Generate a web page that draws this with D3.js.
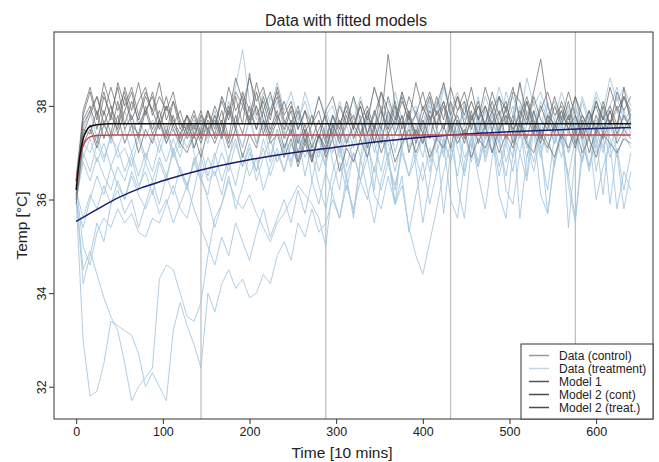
<!DOCTYPE html>
<html>
<head>
<meta charset="utf-8">
<script src="https://cdn.jsdelivr.net/npm/d3@7"></script>
<style>
  body { margin: 0; background: #fff; }
  svg { font-family: "Liberation Sans", Arial, sans-serif; }
</style>
</head>
<body>
<svg id="chart" width="659" height="462"></svg>
<script>
// sampling grid of the traces (every 8 x 10 mins)
var times = d3.range(0, 641, 8)

// control animals
var ctrlA = [
  36.3, 37.6, 37.9, 38.2, 37.8, 38.4, 37.9, 38.3, 37.7, 38.1,
  38.4, 37.8, 38.2, 37.9, 38.3, 37.6, 37.5, 37.9, 37.4, 37.8,
  37.6, 38.1, 37.7, 38.3, 38.0, 38.6, 38.1, 38.4, 37.8, 38.2,
  37.6, 38.0, 37.5, 37.9, 37.3, 37.7, 37.2, 37.8, 37.5, 38.1,
  37.6, 38.0, 37.4, 37.9, 37.5, 38.2, 37.7, 38.3, 37.8, 37.4,
  38.0, 37.6, 38.2, 37.7, 38.4, 37.9, 38.1, 37.5, 38.0, 37.6,
  38.3, 37.8, 38.1, 37.4, 37.9, 37.6, 38.2, 37.7, 37.5, 38.0,
  37.6, 38.1, 37.4, 37.8, 37.5, 38.1, 37.7, 38.0, 37.6, 38.2,
  37.8]
var ctrlB = [
  36.0, 37.3, 37.6, 37.2, 37.9, 37.4, 38.1, 37.5, 37.8, 37.3,
  37.9, 37.4, 37.7, 37.2, 37.6, 37.3, 37.8, 37.1, 37.5, 37.9,
  37.3, 37.7, 37.2, 37.8, 37.4, 38.0, 37.5, 37.9, 37.3, 37.7,
  37.1, 37.5, 36.8, 37.3, 36.9, 37.4, 37.0, 37.6, 37.2, 37.8,
  37.3, 37.7, 37.1, 37.6, 37.2, 37.9, 37.4, 37.8, 37.0, 37.5,
  37.2, 37.8, 37.3, 37.6, 37.1, 37.7, 37.4, 37.9, 37.2, 37.6,
  37.0, 37.5, 37.8, 37.2, 37.7, 37.3, 37.9, 37.4, 37.1, 37.6,
  37.3, 37.8, 37.2, 37.6, 37.0, 37.5, 37.3, 37.7, 37.2, 37.5,
  37.3]
var ctrlC = [
  36.5, 37.8, 38.3, 37.7, 38.5, 38.0, 37.6, 38.4, 37.9, 38.5,
  37.8, 38.3, 37.7, 38.2, 37.6, 37.9, 37.4, 37.8, 37.3, 37.9,
  37.5, 38.2, 37.8, 38.6, 38.1, 37.7, 38.5, 37.9, 38.3, 37.7,
  38.1, 37.6, 38.0, 37.4, 37.8, 37.3, 37.9, 38.2, 37.6, 38.0,
  37.5, 38.1, 37.7, 38.4, 37.9, 37.5, 38.0, 37.6, 38.2, 37.8,
  38.3, 37.7, 38.0, 38.5, 37.8, 38.2, 37.6, 38.1, 37.7, 38.4,
  37.9, 38.2, 37.6, 38.3, 38.1, 37.7, 38.3, 39.0, 38.0, 37.5,
  38.1, 37.7, 38.2, 37.6, 37.9, 37.4, 38.0, 37.6, 38.3, 37.9,
  38.2]
var ctrlD = [
  36.2, 37.5, 37.4, 37.9, 37.3, 37.8, 37.5, 38.2, 37.6, 37.4,
  38.0, 37.5, 37.9, 37.4, 38.1, 37.7, 37.3, 37.6, 37.2, 37.7,
  37.4, 37.9, 37.3, 38.2, 37.6, 38.7, 37.8, 38.1, 37.5, 37.9,
  37.3, 37.7, 37.0, 37.5, 36.8, 37.4, 37.1, 37.6, 37.3, 37.6,
  37.8, 37.4, 37.9, 37.2, 37.7, 39.1, 38.0, 37.3, 37.8, 37.2,
  37.7, 37.3, 37.9, 37.5, 38.1, 37.6, 37.2, 37.8, 37.4, 38.0,
  37.5, 37.9, 37.3, 37.8, 37.4, 38.1, 37.6, 37.2, 37.8, 37.4,
  37.9, 37.5, 37.1, 37.7, 37.3, 37.8, 37.4, 37.9, 37.5, 38.4,
  37.6]
var ctrlE = [
  35.9, 37.2, 37.5, 37.1, 37.6, 37.3, 37.8, 37.2, 37.6, 37.0,
  37.5, 37.2, 37.7, 37.3, 37.8, 37.2, 37.0, 37.4, 36.9, 37.5,
  37.2, 37.6, 37.1, 37.5, 36.9, 37.4, 37.1, 37.7, 37.2, 37.4,
  36.9, 37.3, 36.7, 37.2, 36.8, 37.4, 36.9, 37.3, 36.6, 37.1,
  36.8, 37.3, 36.9, 37.5, 37.0, 37.4, 36.8, 37.2, 37.5, 37.0,
  37.4, 36.9, 37.3, 37.1, 37.6, 37.2, 37.5, 36.9, 37.3, 37.1,
  37.5, 37.0, 37.4, 37.1, 37.6, 37.2, 37.0, 37.5, 37.2, 36.9,
  37.4, 37.1, 37.5, 37.0, 37.3, 36.9, 37.4, 37.2, 37.0, 37.3,
  37.2]
var ctrlF = [
  36.4, 37.7, 38.0, 37.5, 38.2, 37.8, 38.4, 37.6, 38.1, 37.7,
  38.2, 37.9, 37.5, 38.0, 37.7, 37.4, 37.8, 37.5, 37.9, 37.4,
  37.8, 37.4, 38.0, 37.6, 38.3, 37.9, 37.5, 38.2, 37.7, 38.4,
  37.8, 38.1, 37.5, 37.9, 37.6, 38.2, 37.7, 37.4, 38.0, 37.6,
  38.2, 37.7, 38.0, 37.5, 38.3, 37.9, 37.6, 38.1, 37.7, 38.5,
  37.9, 38.3, 37.8, 38.1, 37.6, 38.2, 37.8, 38.4, 37.7, 38.0,
  37.6, 38.2, 37.9, 38.4, 37.7, 38.1, 37.5, 37.9, 38.3, 37.8,
  38.0, 37.6, 38.2, 37.8, 37.5, 38.1, 37.7, 38.4, 37.9, 38.2,
  37.9]
var ctrlG = [
  36.1, 37.9, 38.4, 37.8, 38.3, 37.7, 38.5, 38.0, 38.4, 37.8,
  38.3, 37.9, 38.5, 37.7, 38.1, 37.5, 37.8, 37.4, 37.7, 37.5,
  38.0, 37.6, 38.4, 37.9, 38.2, 37.6, 38.0, 37.4, 37.9, 38.3,
  37.7, 37.4, 37.9, 37.2, 37.6, 37.9, 37.3, 37.8, 37.4, 37.9,
  37.5, 38.0, 37.4, 37.8, 38.3, 37.6, 38.1, 37.5, 37.9, 37.3,
  37.8, 38.2, 37.5, 38.0, 37.4, 37.9, 38.3, 37.7, 38.1, 37.5,
  37.9, 37.4, 38.0, 37.6, 38.5, 37.8, 37.4, 38.0, 37.6, 38.2,
  37.7, 38.3, 37.8, 37.4, 37.9, 37.5, 38.1, 37.6, 38.0, 37.5,
  37.8]
var ctrlH = [
  36.3, 37.4, 37.8, 38.2, 37.6, 38.0, 37.4, 37.9, 38.3, 37.6,
  37.9, 38.2, 37.6, 38.0, 37.5, 37.2, 37.6, 37.3, 37.8, 37.5,
  37.7, 37.3, 37.9, 37.5, 38.0, 37.6, 38.3, 37.7, 37.4, 37.8,
  37.5, 37.9, 37.2, 37.6, 37.1, 37.5, 37.8, 37.3, 37.7, 37.2,
  37.6, 37.3, 37.8, 37.5, 37.9, 37.4, 37.7, 38.2, 37.6, 37.8,
  37.4, 37.9, 37.6, 38.1, 37.5, 37.8, 37.3, 37.7, 38.0, 37.6,
  38.1, 37.6, 37.9, 37.5, 37.8, 38.2, 37.7, 37.3, 37.8, 37.6,
  37.9, 37.5, 37.8, 37.3, 37.7, 38.0, 37.5, 37.9, 37.4, 37.8,
  37.5]

// treated animals
var treatA = [
  36.0, 33.0, 31.8, 31.9, 32.5, 33.4, 33.3, 33.2, 33.1, 32.7,
  32.0, 32.3, 32.0, 31.7, 33.2, 33.8, 33.3, 32.9, 32.4, 34.0,
  33.6, 34.2, 34.5, 34.1, 34.3, 33.9, 34.0, 34.4, 34.2, 34.8,
  35.1, 34.7, 35.5, 35.2, 35.8, 35.3, 35.5, 36.0, 35.6, 36.3,
  35.8, 36.4, 36.0, 36.7, 36.2, 36.8, 36.3, 37.0, 36.5, 36.9,
  36.4, 37.1, 36.6, 37.3, 36.8, 37.5, 36.9, 37.2, 36.7, 37.4,
  37.0, 37.6, 36.8, 37.3, 37.7, 37.1, 37.5, 36.9, 37.6, 37.2,
  37.7, 37.0, 37.4, 36.8, 37.5, 37.1, 37.8, 37.3, 36.9, 37.4,
  37.1]
var treatB = [
  36.1, 34.5, 34.9, 34.4, 33.9, 33.5, 33.2, 32.5, 31.7, 32.0,
  32.2, 32.4, 34.3, 34.6, 34.5, 34.0, 33.5, 33.4, 33.8, 34.8,
  35.6, 35.9, 36.4, 36.0, 35.8, 36.1, 35.7, 35.4, 35.1, 35.5,
  35.7, 36.0, 36.3, 36.1, 35.9, 35.6, 35.0, 36.3, 36.8, 36.2,
  37.0, 36.4, 36.9, 36.1, 35.8, 36.5, 35.9, 36.3, 35.4, 34.8,
  34.4, 35.1, 35.8, 36.6, 37.2, 36.5, 37.4, 36.8, 37.6, 37.0,
  37.5, 36.7, 37.3, 36.9, 37.8, 37.2, 36.6, 37.4, 37.0, 37.7,
  37.2, 36.5, 37.3, 36.8, 37.6, 37.0, 37.5, 36.9, 37.3, 37.8,
  37.4]
var treatC = [
  36.3, 35.0, 34.6, 35.3, 35.6, 35.4, 35.8, 35.5, 35.7, 35.3,
  35.2, 35.6, 35.5, 35.9, 36.3, 35.8, 35.6, 36.2, 36.9, 36.4,
  36.6, 36.1, 36.8, 36.3, 37.0, 36.5, 36.9, 36.2, 36.7, 37.1,
  36.6, 37.2, 36.8, 37.4, 36.9, 37.3, 36.7, 37.5, 37.0, 37.6,
  37.1, 37.7, 37.2, 37.9, 37.3, 37.8, 37.0, 37.6, 37.3, 37.9,
  37.4, 38.0, 37.5, 37.2, 37.8, 37.3, 38.1, 37.6, 37.2, 37.9,
  37.4, 38.2, 37.6, 38.0, 37.3, 37.9, 37.5, 38.1, 37.7, 37.2,
  37.8, 37.4, 38.0, 37.5, 37.9, 37.3, 37.8, 37.6, 38.2, 37.7,
  37.9]
var treatD = [
  36.0, 36.8, 36.4, 36.9, 36.5, 36.2, 36.7, 36.4, 36.9, 36.3,
  36.6, 36.1, 36.8, 36.4, 37.1, 36.6, 36.2, 36.9, 36.4, 36.1,
  36.9, 37.4, 36.8, 37.6, 37.1, 37.8, 37.2, 37.7, 36.9, 37.5,
  37.0, 37.6, 37.2, 37.9, 37.4, 37.0, 37.6, 36.8, 36.2, 37.3,
  37.5, 36.9, 37.7, 37.2, 36.6, 37.4, 37.9, 37.1, 36.5, 37.2,
  37.6, 36.8, 37.3, 35.7, 37.0, 37.5, 36.6, 37.3, 37.8, 36.9,
  37.4, 36.5, 37.2, 37.7, 35.6, 36.9, 37.5, 37.0, 36.2, 37.4,
  37.8, 35.4, 37.0, 37.5, 36.7, 37.3, 36.1, 37.6, 37.0, 35.8,
  36.6]
var treatE = [
  36.2, 37.2, 37.0, 37.4, 36.9, 37.3, 37.1, 37.5, 37.0, 37.4,
  36.9, 37.3, 37.6, 37.2, 37.5, 37.1, 37.4, 37.7, 37.3, 37.9,
  37.6, 38.2, 37.8, 38.4, 39.2, 38.1, 37.7, 38.3, 37.9, 38.5,
  37.9, 38.3, 37.7, 38.1, 37.6, 38.2, 37.8, 38.0, 37.5, 38.1,
  37.7, 38.2, 37.6, 38.4, 37.9, 38.1, 37.5, 38.3, 37.8, 38.0,
  37.6, 38.2, 37.8, 38.5, 37.9, 38.3, 37.7, 38.1, 37.6, 38.2,
  37.8, 38.4, 37.9, 38.2, 37.7, 38.6, 38.0, 38.3, 37.8, 38.1,
  37.6, 38.0, 37.5, 38.2, 37.7, 38.3, 37.9, 38.6, 38.1, 38.4,
  38.0]
var treatF = [
  36.1, 37.0, 36.6, 37.2, 36.8, 37.4, 36.9, 37.1, 36.7, 37.3,
  36.8, 37.4, 37.0, 37.5, 36.9, 37.2, 37.6, 37.0, 36.5, 36.0,
  35.4, 35.9, 36.5, 35.8, 36.3, 37.0, 36.6, 37.3, 36.8, 37.5,
  37.0, 37.6, 36.9, 37.4, 36.4, 37.1, 36.7, 37.8, 37.2, 36.5,
  35.6, 36.8, 37.4, 36.2, 37.6, 36.9, 35.9, 37.3, 37.8, 36.7,
  35.5, 36.4, 37.5, 37.0, 37.8, 36.3, 35.6, 37.1, 37.7, 36.8,
  37.4, 36.1, 35.6, 37.0, 37.6, 36.5, 37.9, 37.2, 35.7, 36.9,
  37.5, 36.3, 35.5, 37.2, 37.8, 36.6, 37.4, 35.9, 37.1, 36.2,
  37.0]
var treatG = [
  36.4, 37.5, 37.9, 37.3, 37.7, 37.2, 37.6, 37.9, 37.4, 37.8,
  37.3, 37.7, 37.2, 37.6, 37.0, 37.4, 37.1, 37.5, 37.8, 37.3,
  37.9, 37.4, 38.1, 37.6, 38.3, 37.7, 38.0, 37.5, 38.2, 37.8,
  37.4, 38.0, 37.6, 38.3, 37.8, 37.3, 37.9, 37.5, 38.1, 37.6,
  38.2, 37.4, 37.9, 37.2, 38.0, 37.5, 38.3, 37.7, 37.3, 37.9,
  37.5, 38.1, 37.6, 38.4, 37.8, 37.3, 38.0, 37.6, 38.2, 37.4,
  37.9, 37.5, 38.3, 37.8, 38.5, 37.6, 38.1, 37.4, 38.0, 37.7,
  38.3, 37.8, 37.4, 38.1, 37.6, 38.2, 37.5, 38.0, 38.4, 37.8,
  37.6]
var treatH = [
  35.9, 35.4, 36.0, 36.5, 36.1, 36.7, 36.3, 36.0, 36.6, 36.2,
  36.8, 36.4, 36.9, 36.5, 37.0, 36.6, 36.3, 36.8, 37.1, 36.5,
  37.0, 36.4, 36.9, 37.3, 36.7, 37.2, 36.6, 37.1, 36.5, 37.0,
  36.6, 37.2, 36.8, 37.5, 37.0, 36.3, 35.8, 36.6, 37.1, 36.4,
  35.7, 36.9, 36.2, 35.5, 36.4, 37.0, 35.9, 36.5, 35.3, 36.1,
  36.8, 35.9, 36.6, 37.2, 36.0, 35.6, 36.8, 37.3, 36.5, 35.8,
  36.9, 37.4, 36.2, 35.9, 37.0, 36.4, 37.5, 36.1, 35.7, 36.8,
  37.3, 36.5, 35.6, 36.9, 37.4, 36.0, 36.7, 37.2, 35.8, 36.6,
  36.2]
var treatI = [
  36.2, 35.6, 36.1, 35.8, 36.3, 35.9, 36.4, 36.0, 36.5, 36.1,
  35.8, 36.2, 35.7, 36.0, 35.5, 35.9, 36.3, 35.8, 35.4, 35.0,
  34.6, 35.2, 34.8, 35.5, 35.1, 34.7, 35.3, 35.8, 35.2, 35.6,
  36.0, 35.5, 36.2, 35.7, 36.4, 35.9, 36.6, 36.1, 35.6, 36.5,
  37.0, 36.4, 37.2, 36.6, 37.4, 36.8, 36.2, 37.1, 37.6, 36.9,
  37.3, 36.6, 37.5, 36.9, 37.7, 37.1, 36.5, 37.4, 36.8, 37.6,
  37.0, 37.8, 37.2, 36.6, 37.5, 36.9, 37.7, 37.1, 37.4, 36.7,
  37.6, 37.0, 37.8, 37.2, 36.7, 37.5, 37.0, 37.7, 37.3, 37.9,
  37.5]
var treatJ = [
  36.0, 36.9, 37.3, 36.8, 37.2, 36.7, 37.1, 36.6, 37.0, 36.5,
  37.0, 36.6, 37.2, 36.8, 37.3, 36.9, 37.5, 37.1, 37.6, 37.2,
  37.8, 37.3, 38.0, 37.5, 37.1, 37.7, 37.2, 37.9, 37.4, 38.1,
  37.5, 36.8, 37.4, 36.5, 37.2, 36.9, 37.6, 37.0, 37.4, 36.7,
  37.3, 37.8, 36.9, 37.5, 38.0, 37.2, 36.6, 37.3, 37.9, 37.4,
  36.9, 37.6, 38.1, 37.3, 36.8, 37.5, 38.0, 37.4, 36.7, 37.3,
  37.8, 37.2, 36.5, 37.4, 38.0, 37.3, 36.8, 37.6, 38.1, 37.4,
  36.9, 37.5, 38.0, 37.3, 36.6, 37.4, 37.9, 37.1, 37.6, 38.2,
  37.7]
var treatK = [
  36.1, 34.2, 34.8, 35.5, 35.1, 35.9, 36.2, 35.7, 36.0, 35.4,
  35.9, 36.4, 35.9, 36.5, 36.1, 36.7, 36.3, 36.8, 36.4, 36.9,
  36.5, 37.0, 36.6, 37.2, 36.7, 37.1, 36.4, 36.9, 37.3, 36.8,
  37.2, 36.7, 37.4, 36.9, 37.3, 36.6, 37.1, 37.5, 36.9, 37.4,
  36.8, 37.3, 37.7, 37.0, 37.5, 36.9, 37.4, 37.8, 37.1, 37.6,
  37.2, 37.7, 37.0, 37.5, 37.9, 37.3, 37.6, 37.1, 37.8, 37.3,
  37.7, 37.2, 37.8, 37.4, 37.0, 37.6, 37.9, 37.3, 37.7, 37.2,
  37.6, 37.9, 37.3, 37.8, 37.4, 37.7, 37.1, 37.6, 37.9, 37.4,
  37.6]

// fitted model curves
var fastTimes = [0, 4, 8, 12, 16, 24, 40, 640]
var model1Temp = [36.4, 36.85, 37.15, 37.28, 37.34, 37.37, 37.38, 37.38]
var model2ContTemp = [36.2, 36.9, 37.3, 37.48, 37.56, 37.6, 37.62, 37.62]
var slowTimes = [0, 25, 50, 75, 100, 144, 200, 250, 288, 350, 432, 500, 570, 640]
var model2TreatTemp = [35.53, 35.8, 36.05, 36.25, 36.4, 36.63, 36.85, 37.0, 37.09, 37.24, 37.38, 37.45, 37.5, 37.54]

var dayLines = [144, 288, 432, 576]
var xTicks = [0, 100, 200, 300, 400, 500, 600]
var yTicks = [32, 34, 36, 38]
var legendLabels = ['Data (control)', 'Data (treatment)', 'Model 1', 'Model 2 (cont)', 'Model 2 (treat.)']

var controls = [ctrlA, ctrlB, ctrlC, ctrlD, ctrlE, ctrlF, ctrlG, ctrlH]
var treatments = [treatA, treatB, treatC, treatD, treatE, treatF, treatG, treatH, treatI, treatJ, treatK]

var box = {left: 54, right: 653, top: 32, bottom: 419}

var svg = d3.select('#chart')

var x = d3.scaleLinear().domain([-25.6, 665.6]).range([box.left, box.right])
var y = d3.scaleLinear().domain([31.31, 39.58]).range([box.bottom, box.top])

svg.append('clipPath').attr('id', 'plotclip')
    .append('rect')
    .attr('x', box.left).attr('y', box.top)
    .attr('width', box.right - box.left).attr('height', box.bottom - box.top)

var plot = svg.append('g').attr('clip-path', 'url(#plotclip)')

// day separators
plot.selectAll('.day')
    .data(dayLines)
    .enter().append('line')
    .attr('x1', d => x(d)).attr('x2', d => x(d))
    .attr('y1', box.top).attr('y2', box.bottom)
    .attr('stroke', '#bdbdbd')
    .attr('stroke-width', 1.2)

var trace = d3.line()
    .x((d, i) => x(times[i]))
    .y(d => y(d))

plot.selectAll('.treat')
    .data(treatments)
    .enter().append('path')
    .attr('d', trace)
    .attr('fill', 'none')
    .attr('stroke', '#a3c5de')
    .attr('stroke-opacity', 0.85)
    .attr('stroke-width', 1)

plot.selectAll('.ctrl')
    .data(controls)
    .enter().append('path')
    .attr('d', trace)
    .attr('fill', 'none')
    .attr('stroke', '#6e6e6e')
    .attr('stroke-opacity', 0.75)
    .attr('stroke-width', 1)

/*
    --------------------------------------
    Model curves
*/
function modelLine (ts) {
  return d3.line()
      .x((d, i) => x(ts[i]))
      .y(d => y(d))
      .curve(d3.curveMonotoneX)
}

var models = [
  {t: slowTimes, v: model2TreatTemp, col: '#1c1c6b'},
  {t: fastTimes, v: model1Temp, col: '#c0444c'},
  {t: fastTimes, v: model2ContTemp, col: '#111111'}
]

plot.selectAll('.model')
    .data(models)
    .enter().append('path')
    .attr('d', d => modelLine(d.t)(d.v))
    .attr('fill', 'none')
    .attr('stroke', d => d.col)
    .attr('stroke-width', 1.5)

/*
    --------------------------------------
    Axes
*/
var xAxis = svg.append('g')
    .attr('transform', `translate(0,${box.bottom})`)
    .call(d3.axisBottom(x).tickValues(xTicks).tickSize(5).tickPadding(3).tickFormat(d3.format('d')))
xAxis.select('.domain').remove()
xAxis.selectAll('text').attr('font-size', 12.5).attr('fill', '#222')
    .attr('font-family', '"Liberation Sans", Arial, sans-serif')
xAxis.selectAll('line').attr('stroke', '#333')

var yAxis = svg.append('g')
    .attr('transform', `translate(${box.left},0)`)
    .call(d3.axisLeft(y).tickValues(yTicks).tickSize(5).tickFormat(d3.format('d')))
yAxis.select('.domain').remove()
yAxis.selectAll('line').attr('stroke', '#333')
yAxis.selectAll('text')
    .attr('font-size', 12.5).attr('fill', '#222')
    .attr('font-family', '"Liberation Sans", Arial, sans-serif')
    .attr('x', null).attr('dy', null)
    .attr('text-anchor', 'middle')
    .attr('transform', 'translate(-8.5,0) rotate(-90)')

svg.append('rect')
    .attr('x', box.left).attr('y', box.top)
    .attr('width', box.right - box.left).attr('height', box.bottom - box.top)
    .attr('fill', 'none')
    .attr('stroke', '#333')
    .attr('stroke-width', 1)

svg.append('text')
    .attr('x', 346).attr('y', 26)
    .attr('text-anchor', 'middle')
    .attr('font-size', 16)
    .attr('fill', '#222')
    .text('Data with fitted models')

svg.append('text')
    .attr('x', 342).attr('y', 458)
    .attr('text-anchor', 'middle')
    .attr('font-size', 15.5)
    .attr('fill', '#222')
    .text('Time [10 mins]')

svg.append('text')
    .attr('transform', `translate(27,${(box.top + box.bottom) / 2}) rotate(-90)`)
    .attr('text-anchor', 'middle')
    .attr('font-size', 15.5)
    .attr('fill', '#222')
    .text('Temp [°C]')

/*
    --------------------------------------
    Legend
*/
var legendCols = ['#9a9a9a', '#c4d7e5', '#5a5050', '#4a4a4a', '#4a4a58']
var legend = svg.append('g')

legend.append('rect')
    .attr('x', 521).attr('y', 344)
    .attr('width', box.right - 521).attr('height', box.bottom - 344)
    .attr('fill', '#fff')
    .attr('stroke', '#333')

var rows = legend.selectAll('.row')
    .data(legendLabels)
    .enter().append('g')
    .attr('transform', (d, i) => `translate(0,${355.5 + i * 13})`)

rows.append('line')
    .attr('x1', 529).attr('x2', 549)
    .attr('stroke', (d, i) => legendCols[i])
    .attr('stroke-width', 1.5)

rows.append('text')
    .attr('x', 559).attr('dy', '0.35em')
    .attr('font-size', 12)
    .attr('fill', '#222')
    .text(d => d)
</script>
</body>
</html>
